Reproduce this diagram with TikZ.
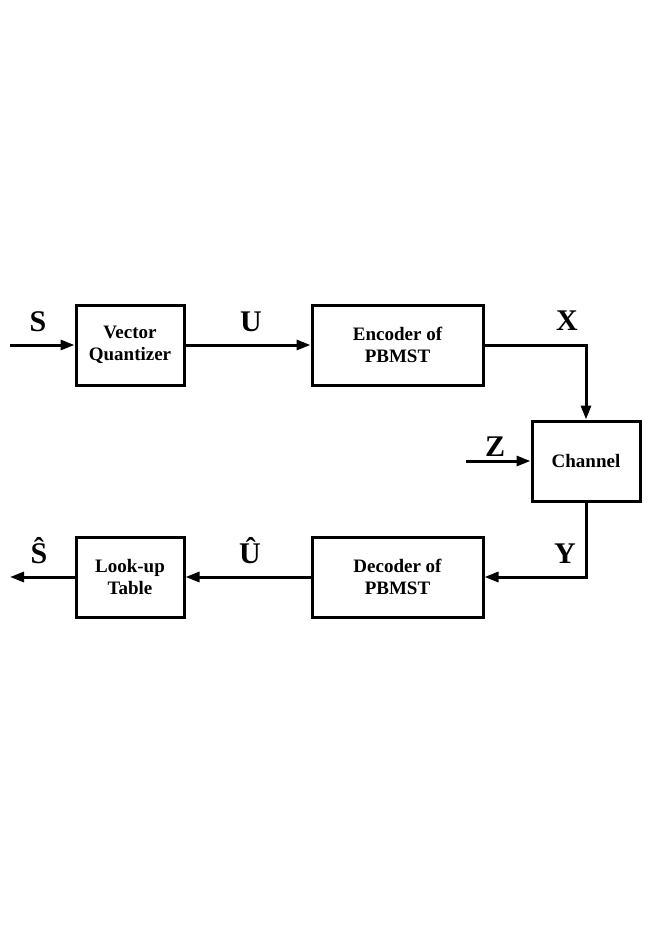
\documentclass[tikz,border=0pt]{standalone}
\usepackage{fontspec}
\setmainfont{Liberation Serif}
\usetikzlibrary{arrows.meta}
\begin{document}
\begin{tikzpicture}[x=1pt,y=-1pt,
  blk/.style={draw,line width=3pt,minimum width=108pt,minimum height=80pt,inner sep=0pt,align=center,
    font=\fontsize{19}{22}\selectfont\bfseries},
  wide/.style={blk,minimum width=171pt},
  sig/.style={font=\fontsize{30}{30}\selectfont\bfseries,anchor=base,inner sep=0pt},
  conn/.style={line width=3pt,-{Triangle[length=14pt,width=10pt]}}]
\useasboundingbox (0,0) rectangle (654,925);
\node[blk] (vq) at (130,345) {Vector\\Quantizer};
\node[wide] (enc) at (397.5,345) {Encoder of\\PBMST};
\node[blk] (ch) at (586,461) {Channel};
\node[wide] (dec) at (397.5,577) {Decoder of\\PBMST};
\node[blk] (lut) at (130,577) {Look-up\\Table};
\coordinate (sin) at (10,345);
\coordinate (zin) at (466,461);
\coordinate (sout) at (10,577);
\draw[conn] (sin) -- (vq);
\draw[conn] (vq) -- (enc);
\draw[conn] (enc.east) -| (ch.north);
\draw[conn] (zin) -- (ch);
\draw[conn] (ch.south) |- (dec.east);
\draw[conn] (dec) -- (lut);
\draw[conn] (lut) -- (sout);
\node[sig] (ls) at (38,331) {S};
\node[sig] (lu) at (251,331) {U};
\node[sig] (lx) at (567,330) {X};
\node[sig] (lz) at (495,456) {Z};
\node[sig] (ly) at (565,563) {Y};
\node[sig] (luh) at (250,563) {Û};
\node[sig] (lsh) at (39,563) {Ŝ};
\end{tikzpicture}
\end{document}
